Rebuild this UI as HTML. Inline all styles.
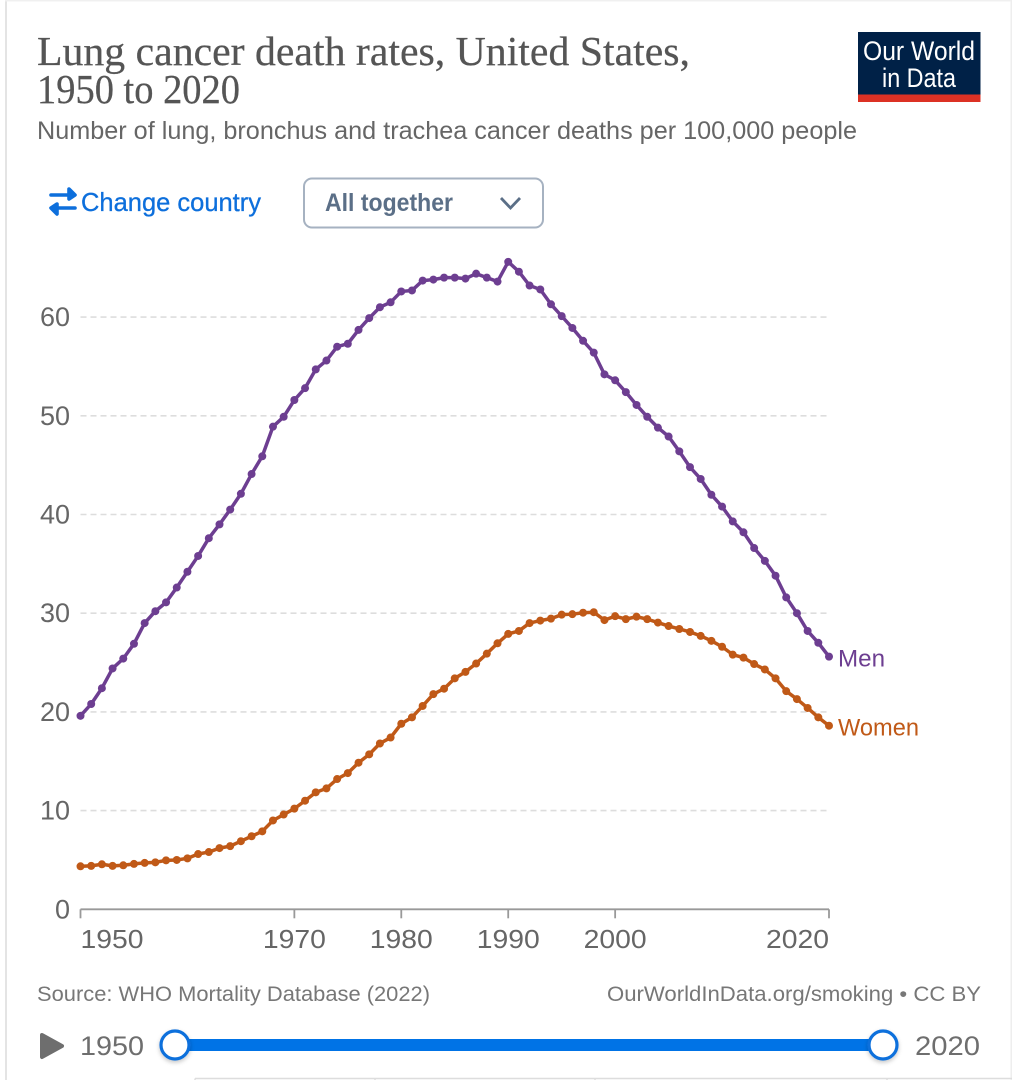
<!DOCTYPE html>
<html lang="en">
<head>
<meta charset="utf-8">
<title>Lung cancer death rates, United States, 1950 to 2020</title>
<style>
html,body{margin:0;padding:0;background:#fff;width:1012px;height:1080px;overflow:hidden}
svg{display:block;font-family:"Liberation Sans",sans-serif}
.serif{font-family:"Liberation Serif",serif}
</style>
</head>
<body>
<svg id="root" xmlns="http://www.w3.org/2000/svg" width="1012" height="1080" viewBox="0 0 1012 1080">
  <defs>
    <filter id="handle-shadow" x="-40%" y="-40%" width="180%" height="180%">
      <feDropShadow dx="0" dy="2" stdDeviation="2" flood-color="#000" flood-opacity="0.22"/>
    </filter>
  </defs>
  <rect x="0" y="0" width="1012" height="1080" fill="#ffffff"/>
  <rect x="5" y="0" width="2" height="1080" fill="#e4e4e4"/>
  <rect x="5" y="0" width="1007" height="1.5" fill="#f0f0f0"/>
  <rect x="1010.5" y="0" width="1.5" height="1080" fill="#eeeeee"/>

  <text class="serif" x="37" y="65" font-size="41" fill="#555555" stroke="#555555" stroke-width="0.25" textLength="653" lengthAdjust="spacingAndGlyphs">Lung cancer death rates, United States,</text>
  <text class="serif" x="37" y="103" font-size="41" fill="#555555" stroke="#555555" stroke-width="0.25" textLength="203" lengthAdjust="spacingAndGlyphs">1950 to 2020</text>
  <text x="37" y="139" font-size="25" fill="#666666" textLength="820" lengthAdjust="spacingAndGlyphs">Number of lung, bronchus and trachea cancer deaths per 100,000 people</text>

  <g>
    <rect x="858" y="32" width="122.500" height="62.500" fill="#002147"/>
    <rect x="858" y="94.500" width="122.500" height="7.500" fill="#dc3124"/>
    <text x="863" y="60" font-size="27" fill="#ffffff" textLength="112" lengthAdjust="spacingAndGlyphs">Our World</text>
    <text x="882" y="87" font-size="27" fill="#ffffff" textLength="74" lengthAdjust="spacingAndGlyphs">in Data</text>
  </g>

  <g>
    <g stroke="#0d6fdc" stroke-width="3.600" fill="none" stroke-linecap="round" stroke-linejoin="round">
      <path d="M51 195H74M69 189L75 195L69 199Z"/>
      <path d="M75 208H52M57 204L51 208L57 214Z"/>
    </g>
    <text x="81" y="211" font-size="26" fill="#0d6fdc" stroke="#0d6fdc" stroke-width="0.3" textLength="180" lengthAdjust="spacingAndGlyphs">Change country</text>
  </g>

  <g>
    <rect x="304" y="178.500" width="239" height="49" rx="8" fill="#ffffff" stroke="#a6b2c1" stroke-width="2"/>
    <text x="325" y="211" font-size="25" font-weight="700" fill="#5b6f87" textLength="128" lengthAdjust="spacingAndGlyphs">All together</text>
    <path d="M501 198L510.500 208L520 198" fill="none" stroke="#5b6f87" stroke-width="2.800"/>
  </g>

  <g id="plot"></g>

  <text x="37" y="1001" font-size="21" fill="#777777" textLength="393" lengthAdjust="spacingAndGlyphs">Source: WHO Mortality Database (2022)</text>
  <text x="607" y="1001" font-size="21" fill="#777777" textLength="374" lengthAdjust="spacingAndGlyphs">OurWorldInData.org/smoking • CC BY</text>

  <g>
    <path d="M42 1035L62 1046L42 1057Z" fill="#6e6e6e" stroke="#6e6e6e" stroke-width="4" stroke-linejoin="round"/>
    <text x="80" y="1055" font-size="27" fill="#6e6e6e" textLength="64" lengthAdjust="spacingAndGlyphs">1950</text>
    <rect x="175" y="1039" width="708" height="12" fill="#0073e6"/>
    <circle cx="175" cy="1045" r="14" fill="#ffffff" stroke="#0a6fdc" stroke-width="3.200" filter="url(#handle-shadow)"/>
    <circle cx="883" cy="1045" r="14" fill="#ffffff" stroke="#0a6fdc" stroke-width="3.200" filter="url(#handle-shadow)"/>
    <text x="915" y="1055" font-size="27" fill="#6e6e6e" textLength="65" lengthAdjust="spacingAndGlyphs">2020</text>
  </g>

  <g stroke="#dddddd" stroke-width="1.500" fill="none">
    <path d="M195 1078.500H1012M195 1078.500V1080M375 1078.500V1080M595 1078.500V1080M887 1078.500V1080"/>
  </g>
</svg>

<script>
const startYear = 1950;
const endYear = 2020;
const yTickValues = [0, 10, 20, 30, 40, 50, 60];
const xTickValues = [1950, 1970, 1980, 1990, 2000, 2020];
const menValues = [
  19.6, 20.8, 22.4, 24.4, 25.4, 26.9, 29.0, 30.2, 31.1, 32.6,
  34.2, 35.8, 37.6, 39.0, 40.5, 42.1, 44.1, 45.9, 48.9, 49.9,
  51.6, 52.8, 54.7, 55.6, 57.0, 57.3, 58.7, 59.9, 61.0, 61.5,
  62.6, 62.7, 63.7, 63.8, 64.0, 64.0, 63.9, 64.4, 64.0, 63.6,
  65.6, 64.6, 63.2, 62.8, 61.3, 60.1, 58.9, 57.6, 56.4, 54.2,
  53.6, 52.4, 51.1, 49.9, 48.8, 47.9, 46.4, 44.8, 43.6, 42.0,
  40.8, 39.3, 38.2, 36.6, 35.3, 33.8, 31.6, 30.0, 28.2, 27.0,
  25.6
];
const womenValues = [
  4.36, 4.4, 4.56, 4.4, 4.46, 4.6, 4.7, 4.76, 4.96, 5.0,
  5.16, 5.6, 5.8, 6.2, 6.4, 6.9, 7.4, 7.9, 9.0, 9.6,
  10.2, 11.0, 11.85, 12.25, 13.2, 13.8, 14.85, 15.7, 16.8, 17.4,
  18.8, 19.45, 20.6, 21.8, 22.35, 23.4, 24.05, 24.9, 25.9, 26.95,
  27.9, 28.2, 29.0, 29.25, 29.45, 29.85, 29.9, 30.05, 30.1, 29.3,
  29.7, 29.4, 29.65, 29.4, 29.05, 28.7, 28.4, 28.1, 27.7, 27.2,
  26.6, 25.8, 25.5, 24.85, 24.3, 23.4, 22.1, 21.3, 20.4, 19.45,
  18.6
];

const NS = 'http://www.w3.org/2000/svg';
const plot = document.getElementById('plot');
const xLeft = 80.5, xRight = 829, yZero = 909.3, yPerUnit = 9.87;

function xScale(year) {
  return xLeft + (year - startYear) * (xRight - xLeft) / (endYear - startYear);
}
function yScale(value) {
  return yZero - value * yPerUnit;
}
function make(tag, parent) {
  const el = document.createElementNS(NS, tag);
  parent.appendChild(el);
  return el;
}

/* y gridlines and labels */
yTickValues.forEach(function (v) {
  const y = yScale(v);
  if (v !== 0) {
    const grid = make('line', plot);
    
    
    grid.setAttribute('x1', xLeft);
    grid.setAttribute('x2', 827);
    grid.setAttribute('y1', y);
    grid.setAttribute('y2', y);
    grid.setAttribute('stroke', '#dddddd');
    grid.setAttribute('stroke-width', '1.6');
    grid.setAttribute('stroke-dasharray', '6 4');
  }
  const label = make('text', plot);
  
  
  label.setAttribute('x', 70);
  label.setAttribute('y', y + 9);
  label.setAttribute('text-anchor', 'end');
  label.setAttribute('font-size', '27');
  label.setAttribute('fill', '#666666');
  label.textContent = String(v);
});

/* x axis */
const axis = make('line', plot);


axis.setAttribute('x1', xLeft);
axis.setAttribute('x2', xRight);
axis.setAttribute('y1', yZero);
axis.setAttribute('y2', yZero);
axis.setAttribute('stroke', '#999999');
axis.setAttribute('stroke-width', '1.8');

xTickValues.forEach(function (yr, i) {
  const x = xScale(yr);
  const tick = make('line', plot);
  
  
  tick.setAttribute('x1', x);
  tick.setAttribute('x2', x);
  tick.setAttribute('y1', yZero);
  tick.setAttribute('y2', yZero + 9);
  tick.setAttribute('stroke', '#999999');
  tick.setAttribute('stroke-width', '1.8');
  const label = make('text', plot);
  
  
  const anchor = i === 0 ? 'start' : (i === xTickValues.length - 1 ? 'end' : 'middle');
  label.setAttribute('x', x);
  label.setAttribute('y', 948);
  label.setAttribute('text-anchor', anchor);
  label.setAttribute('font-size', '26');
  label.setAttribute('fill', '#666666');
  label.setAttribute('textLength', '63');
  label.setAttribute('lengthAdjust', 'spacingAndGlyphs');
  label.textContent = String(yr);
});

/* series: men */
const menLine = make('polyline', plot);


menLine.setAttribute('fill', 'none');
menLine.setAttribute('stroke', '#6d3e91');
menLine.setAttribute('stroke-width', '3.5');
menLine.setAttribute('stroke-linejoin', 'round');
menLine.setAttribute('points', menValues.map(function (v, i) {
  return xScale(startYear + i) + ',' + yScale(v);
}).join(' '));
menValues.forEach(function (v, i) {
  const pt = make('circle', plot);
  
  
  pt.setAttribute('cx', xScale(startYear + i));
  pt.setAttribute('cy', yScale(v));
  pt.setAttribute('r', '4');
  pt.setAttribute('fill', '#6d3e91');
});

/* series: women */
const womenLine = make('polyline', plot);


womenLine.setAttribute('fill', 'none');
womenLine.setAttribute('stroke', '#c05917');
womenLine.setAttribute('stroke-width', '3.5');
womenLine.setAttribute('stroke-linejoin', 'round');
womenLine.setAttribute('points', womenValues.map(function (v, i) {
  return xScale(startYear + i) + ',' + yScale(v);
}).join(' '));
womenValues.forEach(function (v, i) {
  const pt = make('circle', plot);
  
  
  pt.setAttribute('cx', xScale(startYear + i));
  pt.setAttribute('cy', yScale(v));
  pt.setAttribute('r', '4');
  pt.setAttribute('fill', '#c05917');
});

/* series labels */
const menLabel = make('text', plot);


menLabel.setAttribute('x', 838);
menLabel.setAttribute('y', yScale(menValues[menValues.length - 1]) + 10);
menLabel.setAttribute('font-size', '24');
menLabel.setAttribute('fill', '#6d3e91');
menLabel.setAttribute('textLength', '47');
menLabel.setAttribute('lengthAdjust', 'spacingAndGlyphs');
menLabel.textContent = 'Men';

const womenLabel = make('text', plot);


womenLabel.setAttribute('x', 838);
womenLabel.setAttribute('y', yScale(womenValues[womenValues.length - 1]) + 10);
womenLabel.setAttribute('font-size', '24');
womenLabel.setAttribute('fill', '#c05917');
womenLabel.setAttribute('textLength', '81');
womenLabel.setAttribute('lengthAdjust', 'spacingAndGlyphs');
womenLabel.textContent = 'Women';
</script>
</body>
</html>
